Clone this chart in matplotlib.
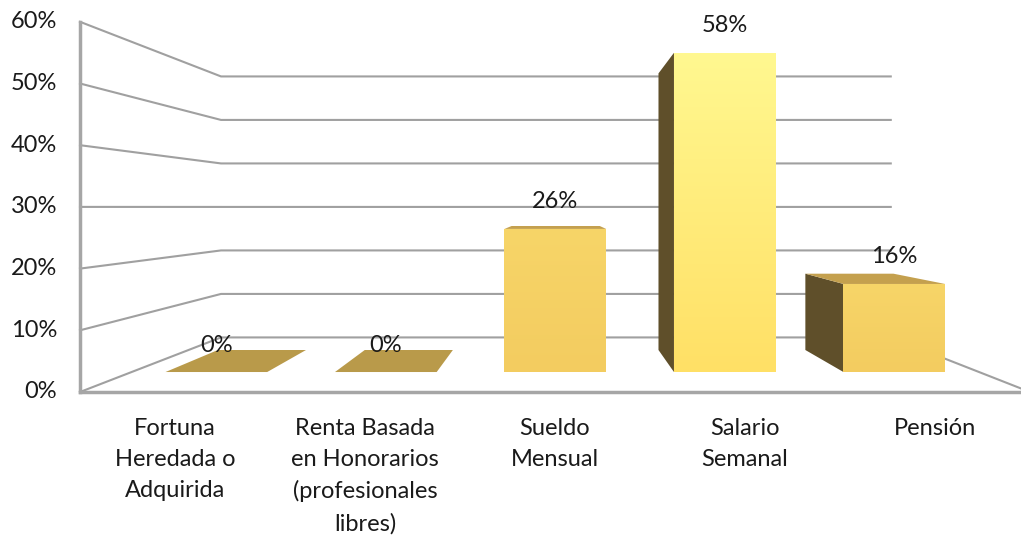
"""Recreate a 3D-perspective column chart (income source shares)."""

import matplotlib

matplotlib.use("Agg")
import matplotlib.pyplot as plt
import numpy as np
from matplotlib.patches import Polygon

# Data
categories = [
    "Fortuna\nHeredada o\nAdquirida",
    "Renta Basada\nen Honorarios\n(profesionales\nlibres)",
    "Sueldo\nMensual",
    "Salario\nSemanal",
    "Pensión",
]
values = [0, 0, 26, 58, 16]
highlight = 3
ticks = [0, 10, 20, 30, 40, 50, 60]

# Perspective set-up (pixel space of the figure)
VX, VY = 558, 207          # vanishing point (eye level at 30%)
BASE_Y, PX_PER_PCT = 392, 6.17
FRONT_X0, FRONT_X1 = 80, 1030
S_WALL, S_BAR_F, S_BAR_B = 0.705, 0.892, 0.773
CAT_W = (FRONT_X1 - FRONT_X0) / len(categories)
BAR_W = 0.6 * CAT_W


def proj(x, v, s):
    """Project front-plane x and value v (percent) at depth scale s."""
    y = BASE_Y - v * PX_PER_PCT
    return VX + s * (x - VX), VY + s * (y - VY)


def gradient_fill(ax, pts, top, bottom, zorder):
    poly = Polygon(pts, closed=True, facecolor="none", edgecolor="none")
    ax.add_patch(poly)
    xs, ys = zip(*pts)
    c0 = np.array(matplotlib.colors.to_rgb(top))
    c1 = np.array(matplotlib.colors.to_rgb(bottom))
    t = np.linspace(0, 1, 64)[:, None, None]
    img = c0 + (c1 - c0) * t
    img = np.repeat(img, 4, axis=1)
    im = ax.imshow(img, extent=(min(xs), max(xs), max(ys), min(ys)),
                   aspect="auto", zorder=zorder, interpolation="bilinear")
    im.set_clip_path(poly)


fig = plt.figure(figsize=(10.21, 5.35), dpi=100)
ax = fig.add_axes([0, 0, 1, 1])
ax.set_xlim(0, 1021)
ax.set_ylim(535, 0)
ax.axis("off")

grid_c = "#A0A0A0"
font = ["Lato", "DejaVu Sans"]
fs = 17

# Walls: left wall diagonals + back wall horizontals
for v in ticks:
    fx, fy = proj(FRONT_X0, v, 1.0)
    bx, by = proj(FRONT_X0, v, S_WALL)
    ex, ey = proj(FRONT_X1, v, S_WALL)
    ax.plot([fx, bx, ex], [fy, by, ey], color=grid_c, lw=1.5, zorder=1,
            solid_joinstyle="miter")
    ax.text(57, fy, f"{v}%", ha="right", va="center", fontsize=fs,
            family=font, color="#1a1a1a")

# Floor edges and left axis
x0f, y0f = proj(FRONT_X0, 0, 1.0)
x1f, y1f = proj(FRONT_X1, 0, 1.0)
x1b, y1b = proj(FRONT_X1, 0, S_WALL)
ax.plot([x0f, x1f], [y0f, y1f], color="#A6A6A6", lw=2.5, zorder=1)
ax.plot([x1f, x1b], [y1f, y1b], color=grid_c, lw=1.5, zorder=1)
xt, yt = proj(FRONT_X0, ticks[-1], 1.0)
ax.plot([x0f, xt], [y0f, yt], color="#A6A6A6", lw=2.5, zorder=1)

# Bars
side_c, top_c = "#5F4F2A", "#C4A04E"
for i, (v, lab) in enumerate(zip(values, categories)):
    cx = FRONT_X0 + (i + 0.5) * CAT_W
    xl, xr = cx - BAR_W / 2, cx + BAR_W / 2
    z = 3 + i
    if xl > VX and v > 0:
        pts = [proj(xl, 0, S_BAR_F), proj(xl, v, S_BAR_F),
               proj(xl, v, S_BAR_B), proj(xl, 0, S_BAR_B)]
        ax.add_patch(Polygon(pts, facecolor=side_c, edgecolor="none", zorder=z))
    if xr < VX and v > 0:
        pts = [proj(xr, 0, S_BAR_F), proj(xr, v, S_BAR_F),
               proj(xr, v, S_BAR_B), proj(xr, 0, S_BAR_B)]
        ax.add_patch(Polygon(pts, facecolor=side_c, edgecolor="none", zorder=z))
    if v < 30:
        pts = [proj(xl, v, S_BAR_F), proj(xr, v, S_BAR_F),
               proj(xr, v, S_BAR_B), proj(xl, v, S_BAR_B)]
        fc = "#B99A4A" if v == 0 else top_c
        ax.add_patch(Polygon(pts, facecolor=fc, edgecolor="none", zorder=z))
    if v > 0:
        front = [proj(xl, 0, S_BAR_F), proj(xr, 0, S_BAR_F),
                 proj(xr, v, S_BAR_F), proj(xl, v, S_BAR_F)]
        if i == highlight:
            gradient_fill(ax, front, "#FFF890", "#FFE066", z + 0.5)
        else:
            gradient_fill(ax, front, "#F7D568", "#F3CC60", z + 0.5)
    lx, ly = proj(cx, v, S_BAR_F)
    ax.text(lx, ly - 27, f"{v}%", ha="center", va="center", fontsize=fs,
            family=font, color="#1a1a1a", zorder=20)
    ax.text(cx, 418, lab, ha="center", va="top", fontsize=fs, family=font,
            color="#1a1a1a", linespacing=1.58)

fig.savefig("out.png", dpi=100)
plt.close(fig)
